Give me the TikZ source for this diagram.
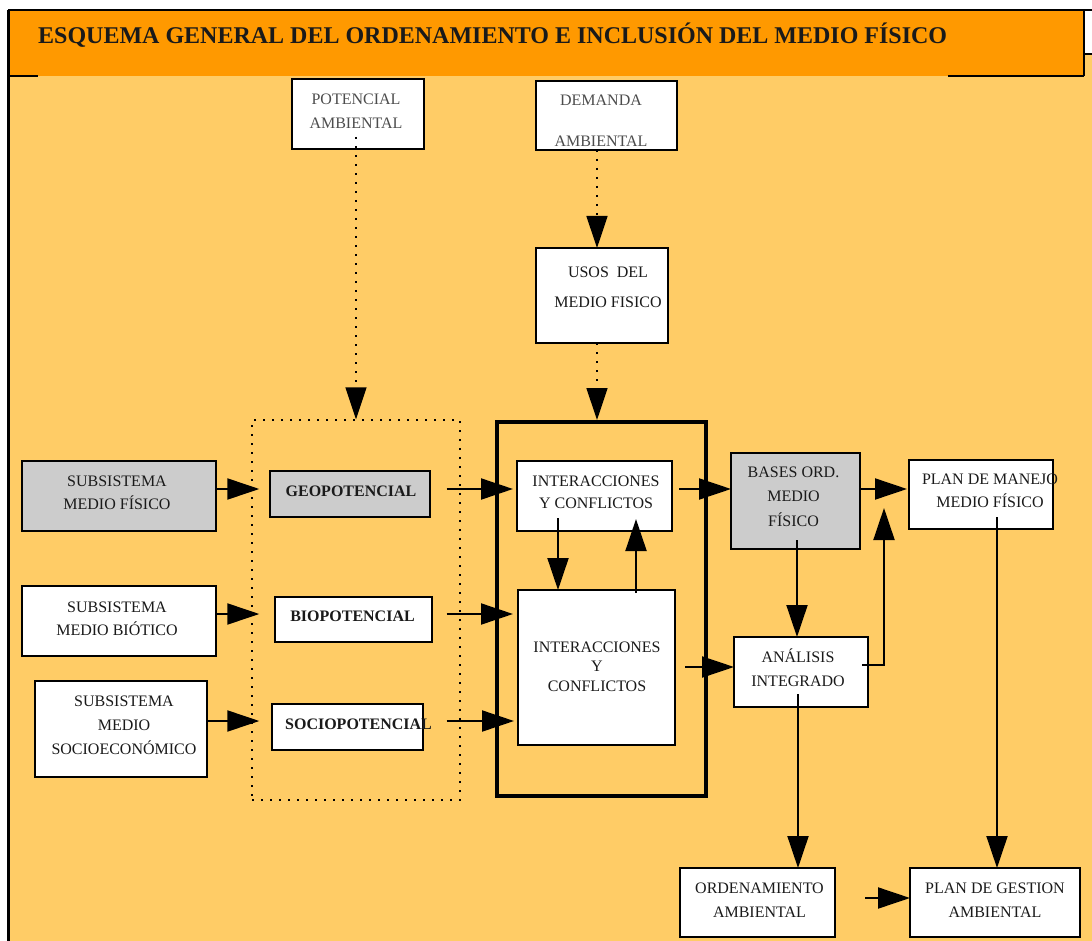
\documentclass[tikz,border=0pt]{standalone}
\usepackage{fontspec}
\setmainfont{Liberation Serif}
\usetikzlibrary{arrows.meta,calc}

\definecolor{bodyorange}{HTML}{FFCC66}
\definecolor{headorange}{HTML}{FF9900}
\definecolor{boxgrey}{HTML}{CCCCCC}
\definecolor{inkgrey}{HTML}{4D4D4D}
\definecolor{ink}{HTML}{1A1A1A}

% several centred lines whose baseline is that of the first line
\newcommand\boxlines[1]{\begin{tabular}[t]{@{}c@{}}#1\end{tabular}}

\tikzset{
  box/.style={draw=black, line width=2pt, fill=white, inner sep=0pt, outer sep=0pt},
  greybox/.style={box, fill=boxgrey},
  size/.style 2 args={minimum width=#1pt, minimum height=#2pt},
  lbl/.style={anchor=base, inner sep=0pt, text=ink},
  sp/.style={font=\fontsize{16}{#1}\selectfont},
  arr/.style={line width=2pt, -{Triangle[length=32pt,width=21pt]}},
  dotarr/.style={line width=1.4pt, dash pattern=on 2pt off 7pt,
                 -{Triangle[length=32pt,width=21pt]}},
}

\begin{document}
\begin{tikzpicture}[x=1pt,y=-1pt]
\useasboundingbox (0,0) rectangle (1092,941);
\fill[white] (0,0) rectangle (1092,941);

% sheet and header band
\fill[bodyorange] (8,54) rectangle (1092,941);
\fill[headorange] (8,10) rectangle (1084,76);
\draw[line width=3pt] (8,941) -- (8,10);
\draw[line width=2.5pt] (8,10) -- (1092,10);
\draw[line width=2.5pt] (1084,10) -- (1084,76);
\draw[line width=2.5pt] (1084,54) -- (1092,54);
\draw[line width=2.5pt] (8,76) -- (38,76);
\draw[line width=2.5pt] (948,76) -- (1084,76);
\node[anchor=base west, inner sep=0pt, text=ink,
      font=\bfseries\fontsize{24}{28}\selectfont] (title) at (38,44)
  {ESQUEMA GENERAL DEL ORDENAMIENTO E INCLUSIÓN DEL MEDIO FÍSICO};

% frames
\node[draw=black, line width=1.4pt, dash pattern=on 2pt off 7pt, inner sep=0pt,
      size={208}{380}] (pot) at (356,610) {};
\node[draw=black, line width=4pt, inner sep=0pt, size={209}{374}] (big) at (601.5,609) {};

% boxes
\node[box, size={132}{70}] (pa)  at (358,114) {};
\node[box, size={141}{69}] (dem) at (606.5,115.5) {};
\node[box, size={132}{95}] (uso) at (602,295.5) {};
\node[greybox, size={194}{70}] (smf) at (119,496) {};
\node[greybox, size={160}{46}] (geo) at (350,494) {};
\node[box, size={155}{70}] (ic1) at (594.5,496) {};
\node[greybox, size={129}{96}] (bas) at (795.5,501) {};
\node[box, size={144}{69}] (pm)  at (981,494.5) {};
\node[box, size={194}{70}] (smb) at (119,621) {};
\node[box, size={157}{45}] (bio) at (353.5,619.5) {};
\node[box, size={157}{155}] (ic2) at (596.5,667.5) {};
\node[box, size={134}{70}] (ana) at (801,672) {};
\node[box, size={172}{96}] (sse) at (121,729) {};
\node[box, size={151}{46}] (soc) at (347.5,727) {};
\node[box, size={155}{69}] (ord) at (757.5,902.5) {};
\node[box, size={170}{69}] (pg)  at (995,902.5) {};

% dotted links
\draw[dotarr] ($(pa.south -| pot.north)+(0,-12)$) -- (pot.north);
\draw[dotarr] ($(dem.south -| uso.north)+(-5,0)$) -- ($(uso.north)+(-5,0)$);
\draw[dotarr] ($(uso.south)+(-5,0)$) -- ($(uso.south |- big.north)+(-5,0)$);

% solid links
\draw[arr] (smf.east |- 0,489) -- ($(pot.west |- 0,489)+(8,0)$);
\draw[arr] (smb.east |- 0,614) -- ($(pot.west |- 0,614)+(8,0)$);
\draw[arr] (sse.east |- 0,721) -- ($(pot.west |- 0,721)+(8,0)$);
\draw[arr] ($(pot.east |- 0,489)+(-14,0)$) -- ($(ic1.west |- 0,489)+(-4,0)$);
\draw[arr] ($(pot.east |- 0,614)+(-14,0)$) -- ($(ic2.west |- 0,614)+(-5,0)$);
\draw[arr] ($(pot.east |- 0,721)+(-14,0)$) -- ($(ic2.west |- 0,721)+(-4,0)$);
\draw[arr] ($(ic1.east |- 0,489)+(7,0)$) -- (bas.west |- 0,489);
\draw[arr] ($(ic1.south)+(-36.5,-13)$) -- ($(ic1.south |- ic2.north)+(-36.5,0)$);
\draw[arr] ($(ic2.north)+(39.5,3)$) -- ($(ic2.north |- ic1.south)+(39.5,-12)$);
\draw[arr] ($(ic2.east |- 0,667)+(10,0)$) -- (ana.west |- 0,667);
\draw[arr] ($(bas.south)+(1.5,-9)$) -- ($(bas.south |- ana.north)+(1.5,0)$);
\coordinate (rise) at (884,508);
\draw[arr] ($(ana.east |- 0,665)+(-6,0)$) -| (rise);
\draw[arr] (bas.east |- 0,489) -- ($(pm.west |- 0,489)+(-2,0)$);
\draw[arr] ($(pm.south)+(16,-12)$) -- ($(pm.south |- pg.north)+(16,0)$);
\draw[arr] ($(ana.south)+(-3,-13)$) -- ($(ana.south |- ord.north)+(-3,0)$);
\draw[arr] ($(ord.east |- 0,898)+(30,0)$) -- (pg.west |- 0,898);

% labels
\node[lbl, sp=24, text=inkgrey] (pa-t)  at (356,104.3) {\boxlines{POTENCIAL\\AMBIENTAL}};
\node[lbl, sp=41, text=inkgrey] (dem-t) at (601,105.3) {\boxlines{DEMANDA\\AMBIENTAL}};
\node[lbl, sp=30] (uso-t) at (608,277.3) {\boxlines{USOS\ \ DEL\\MEDIO FISICO}};
\node[lbl, sp=23] (smf-t) at (117,486.3) {\boxlines{SUBSISTEMA\\MEDIO FÍSICO}};
\node[lbl, sp=23, font=\bfseries\fontsize{16}{23}\selectfont] (geo-t) at (351,496.3) {GEOPOTENCIAL};
\node[lbl, sp=22] (ic1-t) at (596,486.3) {\boxlines{INTERACCIONES\\Y CONFLICTOS}};
\node[lbl, sp=24.5] (bas-t) at (793.5,477.3) {\boxlines{BASES ORD.\\MEDIO\\FÍSICO}};
\node[lbl, sp=23] (pm-t)  at (990,484.3) {\boxlines{PLAN DE MANEJO\\MEDIO FÍSICO}};
\node[lbl, sp=23] (smb-t) at (117,612.3) {\boxlines{SUBSISTEMA\\MEDIO BIÓTICO}};
\node[lbl, sp=23, font=\bfseries\fontsize{16}{23}\selectfont] (bio-t) at (352.5,621.3) {BIOPOTENCIAL};
\node[lbl, sp=19.5] (ic2-t) at (597,652.3) {\boxlines{INTERACCIONES\\Y\\CONFLICTOS}};
\node[lbl, sp=24] (ana-t) at (798,662.3) {\boxlines{ANÁLISIS\\INTEGRADO}};
\node[lbl, sp=24] (sse-t) at (124,706.3) {\boxlines{SUBSISTEMA\\MEDIO\\SOCIOECONÓMICO}};
\node[lbl, sp=23, font=\bfseries\fontsize{16}{23}\selectfont] (soc-t) at (358.5,729.3) {SOCIOPOTENCIAL};
\node[lbl, sp=24] (ord-t) at (759.5,893.3) {\boxlines{ORDENAMIENTO\\AMBIENTAL}};
\node[lbl, sp=24] (pg-t)  at (995,893.3) {\boxlines{PLAN DE GESTION\\AMBIENTAL}};
\end{tikzpicture}
\end{document}
